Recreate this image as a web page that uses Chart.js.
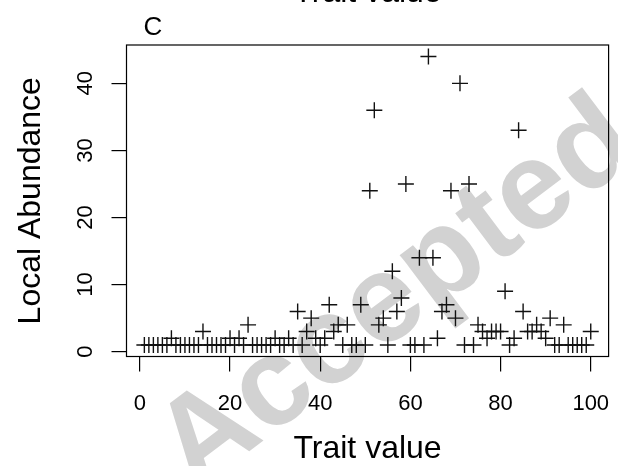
<!DOCTYPE html>
<html>
<head>
<meta charset="utf-8">
<script src="https://cdn.jsdelivr.net/npm/chart.js@4"></script>
<style>
  html, body { margin: 0; padding: 0; background: #fff; }
  canvas { display: block; }
</style>
</head>
<body>
<canvas id="abundance_plot" width="618" height="466"></canvas>
<script>
// trait value of each species and its local abundance
var traitValues = [
    1, 2, 3, 4, 5, 6, 7, 8, 9, 10,
    11, 12, 13, 14, 15, 16, 17, 18, 19, 20,
    21, 22, 23, 24, 25, 26, 27, 28, 29, 30,
    31, 32, 33, 34, 35, 36, 37, 38, 39, 40,
    41, 42, 43, 44, 45, 46, 47, 48, 49, 50,
    51, 52, 53, 54, 55, 56, 57, 58, 59, 60,
    61, 62, 63, 64, 65, 66, 67, 68, 69, 70,
    71, 72, 73, 74, 75, 76, 77, 78, 79, 80,
    81, 82, 83, 84, 85, 86, 87, 88, 89, 90,
    91, 92, 93, 94, 95, 96, 97, 98, 99, 100
];
var localAbundance = [
    1, 1, 1, 1, 1, 1, 2, 1, 1, 1,
    1, 1, 1, 3, 1, 1, 1, 1, 1, 2,
    1, 2, 1, 4, 1, 1, 1, 1, 1, 2,
    1, 1, 2, 1, 6, 1, 3, 5, 2, 1,
    2, 7, 3, 4, 1, 4, 1, 1, 7, 1,
    24, 36, 4, 5, 1, 12, 6, 8, 25, 1,
    1, 14, 1, 44, 14, 2, 6, 7, 24, 5,
    40, 1, 25, 1, 4, 3, 2, 3, 3, 3,
    9, 1, 2, 33, 6, 3, 3, 4, 3, 2,
    5, 1, 1, 4, 1, 1, 1, 1, 1, 3
];
var xTicks = [0, 20, 40, 60, 80, 100];
var yTicks = [0, 10, 20, 30, 40];

var FONT = '"Liberation Sans", Arial, Helvetica, sans-serif';

// grey "Accepted" stamp behind the plot
var watermark = {
    id: 'watermark',
    beforeDraw: function (chart) {
        var ctx = chart.ctx;
        ctx.save();
        ctx.fillStyle = '#fff';
        ctx.fillRect(0, 0, chart.width, chart.height);
        ctx.translate(398, 296);
        ctx.rotate(-37 * Math.PI / 180);
        ctx.fillStyle = 'rgb(210,210,210)';
        ctx.font = 'bold 125px ' + FONT;
        ctx.textAlign = 'center';
        ctx.textBaseline = 'middle';
        ctx.fillText('Accepted', 0, 0);
        ctx.restore();
    }
};

// box, rotated y labels, panel letter and the clipped title of the panel above
var decorations = {
    id: 'decorations',
    afterDraw: function (chart) {
        var ctx = chart.ctx;
        var area = chart.chartArea;
        var yScale = chart.scales.y;
        ctx.save();
        ctx.strokeStyle = '#000';
        ctx.lineWidth = 1.2;
        ctx.strokeRect(area.left, area.top, area.right - area.left, area.bottom - area.top);

        ctx.fillStyle = '#000';
        ctx.font = '22px ' + FONT;
        ctx.textAlign = 'center';
        ctx.textBaseline = 'alphabetic';
        yTicks.forEach(function (v) {
            ctx.save();
            ctx.translate(92, yScale.getPixelForValue(v));
            ctx.rotate(-Math.PI / 2);
            ctx.fillText(String(v), 0, 0);
            ctx.restore();
        });

        ctx.textAlign = 'left';
        ctx.font = '26px ' + FONT;
        ctx.fillText('C', 143.5, 35);

        ctx.textAlign = 'center';
        ctx.font = '32px ' + FONT;
        ctx.fillText('Trait value', (area.left + area.right) / 2, 2);
        ctx.restore();
    }
};

// keep the plot region where the original has it, no room reserved for edge labels
function noEdgePadding(scale) {
    scale.paddingLeft = 0;
    scale.paddingRight = 0;
    scale.paddingTop = 0;
    scale.paddingBottom = 0;
}

new Chart(document.getElementById('abundance_plot').getContext('2d'), {
    type: 'scatter',
    data: {
        datasets: [
            {
                label: 'Local Abundance',
                data: traitValues.map(function (t, i) {
                    return { x: t, y: localAbundance[i] };
                }),
                pointStyle: 'cross',
                pointRadius: 8,
                pointBorderWidth: 1.4,
                borderColor: '#111',
                backgroundColor: '#111'
            }
        ]
    },
    options: {
        responsive: false,
        animation: false,
        devicePixelRatio: 1,
        layout: {
            padding: { top: 45, right: 5.3, left: 0, bottom: 0 }
        },
        plugins: {
            legend: { display: false },
            tooltip: { enabled: false }
        },
        scales: {
            x: {
                type: 'linear',
                min: -2.96,
                max: 103.96,
                afterFit: function (scale) {
                    scale.height = 109.5;
                    noEdgePadding(scale);
                },
                afterBuildTicks: function (scale) {
                    scale.ticks = xTicks.map(function (v) { return { value: v }; });
                },
                border: { display: false },
                grid: {
                    drawOnChartArea: false,
                    drawTicks: true,
                    tickLength: 15,
                    color: '#000',
                    lineWidth: 1.2
                },
                ticks: {
                    color: '#000',
                    font: { family: FONT, size: 22 },
                    padding: 19,
                    autoSkip: false,
                    maxRotation: 0
                },
                title: {
                    display: true,
                    text: 'Trait value',
                    color: '#000',
                    font: { family: FONT, size: 32, lineHeight: 1 },
                    padding: { top: 0, bottom: 1 }
                }
            },
            y: {
                type: 'linear',
                min: -0.72,
                max: 45.72,
                afterFit: function (scale) {
                    scale.width = 126.5;
                    noEdgePadding(scale);
                },
                afterBuildTicks: function (scale) {
                    scale.ticks = yTicks.map(function (v) { return { value: v }; });
                },
                border: { display: false },
                grid: {
                    drawOnChartArea: false,
                    drawTicks: true,
                    tickLength: 15,
                    color: '#000',
                    lineWidth: 1.2
                },
                ticks: { display: false },
                title: {
                    display: true,
                    text: 'Local Abundance',
                    color: '#000',
                    font: { family: FONT, size: 32, lineHeight: 1 },
                    padding: { top: 15, bottom: 0 }
                }
            }
        }
    },
    plugins: [watermark, decorations]
});
</script>
</body>
</html>
